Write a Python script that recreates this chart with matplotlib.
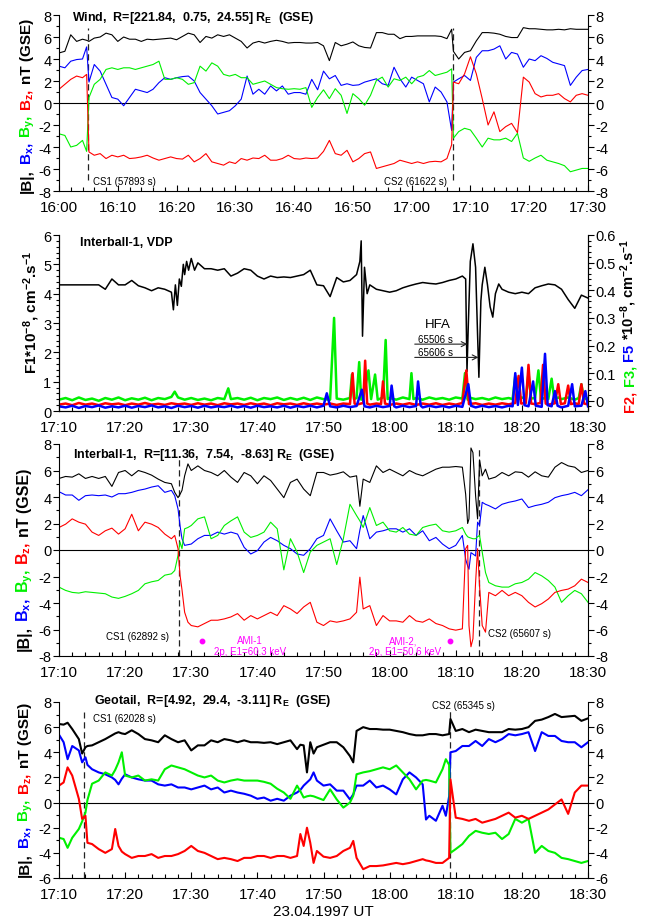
import matplotlib
matplotlib.use("Agg")
import matplotlib.pyplot as plt
from matplotlib.ticker import MultipleLocator, FuncFormatter

plt.rcParams.update({
    "font.family": ["Liberation Sans", "DejaVu Sans"],
    "mathtext.fontset": "custom",
    "mathtext.rm": "Liberation Sans",
    "mathtext.it": "Liberation Sans:italic",
    "mathtext.bf": "Liberation Sans:bold",
    "axes.unicode_minus": False,
})

RED, GREEN, BLUE, BLACK, MAGENTA = "#ff0000", "#00f000", "#0000ff", "#000000", "#ff00ff"

# ---------------- Wind (minutes after 16:00 UT) ----------------
wind_t = [0, 1, 2, 3, 4, 4.7, 5.1,
          6, 7, 8, 9, 10, 11, 12, 13, 14, 15, 16, 17, 18, 19, 20, 21, 22, 23, 24, 25,
          26, 27, 28, 29, 30, 31, 32, 33, 34, 35, 36, 37, 38, 39, 40, 41, 42, 43, 44, 45,
          46, 47, 48, 49, 50, 51, 52, 53, 54, 55, 56, 57, 58, 59, 60, 61, 62, 63, 64, 65, 66,
          66.8, 67.1,
          68, 69, 70, 71, 72, 73, 74, 75, 76, 77, 78, 79, 80, 81, 82, 83, 84, 85, 86, 87, 88, 89, 90]
wind_b = [4.55, 4.7, 6.2, 5.6, 5.8, 5.7, 5.6,
          5.9, 6.0, 6.35, 6.2, 5.6, 6.0, 5.8, 5.8, 5.6, 5.8,
          5.75, 5.8, 5.85, 5.9, 5.75, 6.05, 6.35, 6.2, 5.5, 6.05,
          5.9, 6.2, 6.05, 6.2, 5.9, 5.6, 5.0, 5.45, 5.6, 5.45,
          5.6, 5.7, 5.6, 5.45, 5.5, 5.5, 5.45, 5.45, 5.5, 5.2,
          3.85, 5.5, 5.2, 5.35, 5.55, 5.2, 5.05, 5.0, 6.4, 6.4,
          6.25, 6.25, 5.85, 6.05, 6.05, 6.1, 6.1, 6.1, 6.1, 6.05, 5.85,
          6.7, 4.7,
          4.0, 4.6, 4.75, 5.65, 6.4, 6.4, 6.35, 6.25, 6.05, 5.95,
          5.95, 6.85, 6.75, 6.75, 6.7, 6.65, 6.65, 6.7, 6.65, 6.75, 6.7, 6.7, 6.7]
wind_bx = [3.35, 3.2, 3.8, 3.95, 4.0, 5.1, 1.9,
           3.5, 2.9, 1.7, 0.5, 0.35, -0.25, 0.5, 1.25, 1.1, 0.95,
           1.25, 1.85, 2.3, 2.15, 2.3, 2.4, 2.45, 2.0, 0.95, 0.35,
           -0.25, -1.0, -0.85, -0.7, -0.25, 0.35, 2.45, 0.8, 1.25, 0.8,
           1.55, 1.1, 1.55, 0.8, 0.95, 0.95, 0.8, 2.15, 1.2, 2.9,
           2.2, 2.5, 1.6, 1.75, 1.6, 1.65, 1.9, 2.05, 2.2, 1.75,
           1.6, 3.25, 2.2, 1.45, 2.35, 2.05, 1.75, 0.1, 1.45, 1.0, 0.1,
           -2.5, 1.9,
           2.2, 2.5, 2.05, 4.15, 4.75, 4.75, 4.9, 5.2, 4.0, 4.6,
           4.45, 3.25, 4.0, 3.85, 4.3, 4.05, 3.7, 3.55, 3.4, 1.6, 2.35, 2.95, 3.05]
wind_by = [-2.8, -2.95, -4.0, -3.85, -3.4, -4.4, 0.5,
           1.7, 2.15, 3.05, 3.2, 3.05, 3.2, 3.2, 3.05, 3.2, 3.35,
           3.5, 3.8, 2.15, 2.15, 2.3, 2.15, 1.7, 1.85, 3.35, 2.9,
           3.65, 3.35, 2.6, 2.45, 2.6, 2.3, 2.3, 1.7, 1.85, 2.0,
           1.7, 1.4, 1.3, 1.25, 1.3, 1.25, 1.4, -0.4, 0.5, 1.2,
           0.4, 1.3, 0.7, -0.95, 0.85, 0.4, -0.2, 0.7, 2.05, 2.35,
           1.45, 2.2, 2.05, 2.35, 1.75, 2.35, 2.5, 2.95, 2.5, 2.65, 2.8,
           3.1, -3.2,
           -2.6, -2.3, -2.45, -3.2, -4.0, -3.2, -3.35, -3.35, -3.2, -3.5,
           -2.75, -5.0, -5.3, -5.0, -4.75, -5.2, -5.35, -5.5, -5.7, -6.25, -6.1, -5.95, -5.95]
wind_bz = [1.25, 1.7, 2.15, 2.45, 2.3, 2.6, -4.45,
           -4.75, -4.6, -5.05, -4.75, -4.9, -4.75, -5.05, -5.0, -4.9, -4.75,
           -5.0, -5.2, -5.05, -4.9, -5.05, -5.1, -4.75, -5.35, -5.05, -4.6,
           -5.35, -5.5, -5.65, -5.35, -5.5, -5.05, -5.2, -5.0, -5.05, -4.75,
           -5.2, -5.2, -5.05, -4.75, -5.05, -5.1, -5.0, -5.05, -5.0, -4.4,
           -3.4, -4.6, -4.75, -4.3, -5.35, -5.05, -4.6, -4.45, -5.95, -5.8,
           -5.65, -5.5, -5.2, -5.35, -5.5, -5.35, -5.5, -5.35, -5.3, -5.35, -5.05,
           -3.8, 1.9,
           1.75, 2.65, 4.2, 2.65, 0.4, -2.0, -0.8, -2.6, -2.15, -1.85,
           -2.7, 2.35, 1.9, 0.85, 0.55, 0.7, 0.7, 0.85, 0.4, 0.1, 0.7, 0.85, 0.7]
wind_cs_s = [57893, 61622]

# ---------------- Interball-1 VDP (minutes after 17:10 UT) ----------------
vdp_t1 = [0, 1, 2, 3, 4, 5, 6, 7, 8, 9, 10, 11, 12, 13, 14, 15, 16, 17,
          17.3, 17.6, 17.9, 18.2, 18.5, 18.8, 19, 19.3, 19.6, 20, 20.5,
          21, 22, 23, 24, 25, 26, 27, 28, 29, 30, 31, 32, 33, 34, 35, 36, 37, 38, 39, 40,
          41, 42, 43, 44, 45,
          45.5, 45.7, 45.9, 46.2, 46.6,
          47, 48, 49, 50, 51, 52, 53, 54, 55, 56, 57, 58, 59, 60, 61,
          61.5, 61.7, 61.9, 62.2, 62.6, 63, 63.3, 63.5, 63.8, 64, 64.4, 64.8, 65.2, 65.6, 66, 66.5,
          67, 68, 69, 70, 71, 72, 73, 74, 75, 76, 77, 78, 79, 80]
vdp_f1 = [4.3, 4.3, 4.3, 4.3, 4.3, 4.3, 4.3, 4.15, 4.5, 4.3, 4.3, 4.45, 4.27, 4.2, 4.1, 4.2, 4.15, 4.05,
          3.45, 4.3, 3.6, 4.5, 4.25, 5.0, 4.65, 5.1, 4.8, 5.2, 4.8,
          5.05, 4.85, 4.85, 4.8, 4.85, 4.6, 4.7, 4.85, 4.8, 4.6, 4.5, 4.6, 4.55, 4.57, 4.55, 4.6, 4.65, 4.8, 4.3, 4.27,
          3.9, 4.55, 4.4, 4.45, 4.65,
          5.1, 5.8, 2.55, 4.9, 4.0,
          4.3, 4.15, 4.1, 4.05, 4.1, 4.2, 4.27, 4.33, 4.38, 4.35, 4.33, 4.38, 4.45, 4.5, 4.6,
          4.5, 1.35, 2.95, 5.1, 5.7, 4.9, 2.6, 1.15, 3.75, 4.3, 4.9, 4.3, 3.55, 3.2, 4.0, 4.33,
          4.15, 4.05, 4.0, 4.05, 4.0, 4.2, 4.27, 4.33, 4.3, 4.15, 3.8, 3.5, 3.95, 3.85]

vdp_t3 = [0, 1, 2, 3, 4, 5, 6, 7, 8, 9, 10, 11, 12, 13, 14, 15, 16, 17,
          17.5, 18,
          19, 20, 21, 22, 23, 24, 25,
          25.6,
          26, 27, 28, 29, 30, 31, 32, 33, 34, 35, 36, 37, 38, 39, 40, 41,
          41.6,
          42, 43, 44,
          44.3, 44.6,
          45,
          45.4, 45.7,
          46,
          46.8, 47.2, 47.8, 48.2,
          49,
          49.4, 49.7,
          50, 51, 52, 53,
          53.3, 53.6,
          54, 55, 56, 57, 58, 59, 60, 61,
          61.4, 61.8,
          62, 63, 64, 65, 66, 67, 68,
          68.6, 69, 69.4,
          70, 70.6, 71, 71.4,
          72, 72.5, 72.9,
          73.5, 74, 74.5, 74.9,
          75.5, 76, 77, 78,
          78.6, 79, 79.4, 80]
vdp_f3 = [0.004, 0.010, 0.002, 0.012, 0.003, 0.008, 0.000, 0.010, 0.004, 0.012,
          0.002, 0.009, 0.004, 0.011, 0.002, 0.010, 0.006, 0.014,
          0.033, 0.012,
          0.004, 0.010, 0.003, 0.008, 0.002, 0.010, 0.006,
          0.045,
          0.006, 0.010, 0.004, 0.011, 0.002, 0.010, 0.006, 0.012, 0.003, 0.010, 0.004, 0.011,
          0.003, 0.012, 0.006, 0.004,
          0.30,
          0.008, 0.004, 0.010,
          0.095, 0.006,
          0.010,
          0.14, 0.004,
          0.010,
          0.11, 0.006, 0.095, 0.004,
          0.012,
          0.22, 0.006,
          0.010, 0.004, 0.012, 0.006,
          0.10, 0.006,
          0.010, 0.004, 0.012, 0.006, 0.010, 0.004, 0.012, 0.008,
          0.10, 0.004,
          0.012, 0.006, 0.010, 0.004, 0.012, 0.006, 0.010,
          0.006, 0.09, 0.006,
          0.012, 0.006, 0.10, 0.008,
          0.010, 0.11, 0.006,
          0.010, 0.006, 0.08, 0.006,
          0.012, 0.006, 0.012, 0.004,
          0.010, 0.06, 0.006, 0.010]

vdp_t2 = [0, 1, 2, 3, 4, 5, 6, 7, 8, 9, 10, 11, 12, 13, 14, 15, 16, 17, 18, 19,
          20, 21, 22, 23, 24, 25, 26, 27, 28, 29, 30, 31, 32, 33, 34, 35, 36, 37, 38, 39,
          40, 41, 42, 43, 44,
          44.4, 44.7,
          45, 46,
          46.3, 46.6,
          47, 48,
          48.7, 49.0, 49.3,
          50, 51, 52, 53, 54, 55, 56, 57, 58, 59, 60, 61,
          61.6,
          62, 63, 64, 65, 66, 67, 68, 69,
          69.5, 69.9,
          70.6, 71.0, 71.4,
          72,
          72.8, 73.2, 73.6,
          74, 75,
          75.5, 75.9,
          76.5, 77, 77.4,
          78, 78.6, 79, 79.4, 80]
vdp_f2 = [-0.014, -0.010, -0.016, -0.008, -0.014, -0.010, -0.016, -0.009, -0.013, -0.010,
          -0.016, -0.010, -0.014, -0.008, -0.014, -0.011, -0.015, -0.009, -0.013, -0.010,
          -0.015, -0.009, -0.014, -0.010, -0.016, -0.009, -0.013, -0.010, -0.015, -0.009,
          -0.014, -0.010, -0.016, -0.009, -0.013, -0.010, -0.015, -0.009, -0.014, -0.010,
          -0.014, -0.010, -0.015, -0.010, -0.012,
          0.10, -0.010,
          -0.014, -0.008,
          0.145, -0.010,
          -0.014, -0.010,
          -0.012, 0.07, -0.010,
          -0.015, -0.010, -0.014, -0.009, -0.015, -0.010, -0.014, -0.009, -0.015, -0.010, -0.014, -0.008,
          0.11,
          -0.012, -0.009, -0.015, -0.010, -0.014, -0.009, -0.013, -0.008,
          0.09, -0.010,
          -0.008, 0.13, -0.010,
          -0.012,
          -0.008, 0.13, -0.010,
          -0.014, -0.009,
          0.06, -0.012,
          -0.009, 0.055, -0.012,
          -0.009, -0.012, 0.06, -0.010, -0.013]

vdp_t5 = [0, 1, 2, 3, 4, 5, 6, 7, 8, 9, 10, 11, 12, 13, 14, 15, 16, 17, 18, 19,
          20, 21, 22, 23, 24, 25, 26, 27, 28, 29, 30, 31, 32, 33, 34, 35, 36, 37, 38, 39, 40,
          40.5,
          41, 42, 43, 44, 45,
          45.8, 46.2,
          47, 48, 49, 50,
          50.3, 50.7,
          51, 52, 53, 54,
          54.3, 54.7,
          55, 56, 57, 58, 59, 60, 61,
          61.9, 62.3,
          63, 64, 65, 66, 67, 68,
          68.6, 69, 69.4, 70, 70.4, 71, 71.7, 72.1, 73, 73.5, 73.9, 74.5, 75, 75.4,
          76, 77, 77.6, 78, 79, 79.6, 80]
vdp_f5 = [-0.020, -0.024, -0.018, -0.026, -0.019, -0.023, -0.017, -0.025, -0.020, -0.024,
          -0.018, -0.025, -0.019, -0.023, -0.017, -0.024, -0.020, -0.026, -0.018, -0.023,
          -0.019, -0.025, -0.018, -0.024, -0.020, -0.023, -0.018, -0.024, -0.019, -0.025,
          -0.018, -0.023, -0.020, -0.024, -0.018, -0.025, -0.019, -0.023, -0.018, -0.024,
          -0.018,
          0.027,
          -0.020, -0.024, -0.018, -0.023, -0.019,
          0.04, -0.020,
          -0.024, -0.018, -0.023, -0.019,
          0.055, -0.020,
          -0.024, -0.018, -0.023, -0.019,
          0.07, -0.018,
          -0.024, -0.018, -0.023, -0.019, -0.024, -0.018, -0.022,
          0.06, -0.018,
          -0.024, -0.018, -0.023, -0.019, -0.024, -0.018,
          -0.020, 0.10, -0.015, 0.12, -0.016, -0.020, 0.07, -0.018, -0.022, 0.17, -0.016, -0.020, 0.035, -0.018,
          -0.024, -0.018, 0.06, -0.020, -0.018, 0.035, -0.020]
hfa_s = [65506, 65606]

# ---------------- Interball-1 magnetometer (minutes after 17:10 UT) ----------------
int_t = [0, 1, 2, 3, 4, 5, 6, 7, 8, 9, 10, 11, 12, 13, 14, 15, 16, 17,
         17.5, 18, 18.3, 18.6, 19, 19.5,
         20, 21, 22, 23, 24, 25, 26, 27, 28, 29, 30, 31, 32, 33, 34, 35, 36, 37, 38, 39,
         40, 41, 42, 43, 44, 45,
         45.5,
         46, 47, 48, 49, 50, 51, 52, 53, 54, 55, 56, 57, 58, 59, 60, 61,
         61.5, 61.8, 62, 62.3, 62.6, 63, 63.3, 63.6, 64, 64.5,
         65, 66, 67, 68, 69, 70, 71, 72, 73, 74, 75, 76, 77, 78, 79, 80]
int_b = [5.4, 5.55, 5.5, 5.75, 5.4, 5.55, 5.4, 5.55, 4.8, 5.85, 6.0, 5.6, 6.0, 5.85, 5.65, 5.35, 5.1, 5.0,
         4.35, 3.95, 4.2, 4.5, 5.6, 6.5,
         6.0, 6.35, 6.0, 5.85, 5.6, 6.0, 5.5, 5.1, 5.85, 5.6, 5.0, 5.6, 5.25, 4.6, 3.95, 5.1, 5.35, 4.6, 4.1, 5.85,
         5.85, 5.65, 5.75, 5.9, 5.5, 5.6,
         3.3,
         5.35, 5.1, 6.35, 5.85, 6.1, 5.85, 5.6, 6.0, 5.75, 5.6, 5.85, 6.1, 6.25, 6.25, 6.3, 6.25,
         4.2, 2.0, 2.35, 7.7, 7.35, 4.1, 2.35, 6.8, 5.6, 6.1,
         5.35, 5.5, 5.85, 5.6, 5.9, 5.85, 5.5, 5.9, 5.6, 5.5, 6.25, 6.6, 6.35, 6.25, 5.85, 6.0]
int_bx = [4.4, 4.15, 4.15, 3.75, 4.1, 4.15, 4.1, 4.15, 4.0, 4.25, 4.25, 4.35, 4.5, 4.6, 4.75, 4.85, 4.35, 4.5,
          4.1, 3.1, 1.85, 0.85, 0.35, 0.4,
          0.45, 0.85, 1.1, 1.1, 1.35, 1.2, 1.35, 1.2, 0.2, -0.3, -0.05, 0.6, 0.95, 0.7, 0.35, 0.1, -0.3, -0.4, 0.1, 0.85,
          1.1, 2.35, 1.45, 0.6, 0.7, 0.1,
          1.5,
          2.6, 0.85, 1.35, 1.45, 1.6, 1.6, 1.35, 1.6, 1.1, 1.45, 0.7, 0.95, 0.45, 0.1, 0.35, 1.1,
          -0.7, -1.2, -1.45, -0.2, -0.3, -0.45, 2.1, 1.85, 3.6, 3.45,
          3.35, 3.1, 3.45, 3.6, 3.7, 3.85, 3.2, 3.35, 3.45, 3.6, 3.95, 4.1, 4.2, 4.35, 4.1, 4.55]
int_by = [-2.8, -3.05, -3.2, -3.25, -3.15, -3.2, -3.25, -3.3, -3.55, -3.65, -3.5, -3.3, -3.05, -2.55, -2.4, -2.3, -1.9, -1.8,
          -1.55, -0.4, 0.6, 0.1, 1.6, 1.7,
          1.85, 2.35, 2.5, 0.85, 1.1, 1.85, 2.2, 2.5, 1.35, 0.95, 1.1, 1.35, 2.1, 1.6, -1.5, 0.85, -0.15, -1.7, -0.15, 0.35,
          0.6, 0.85, -1.1, 0.85, 3.45, 2.6,
          2.2,
          1.7, 3.2, 1.85, 2.1, 1.45, 1.35, 1.7, 1.2, 1.1, 1.7, 1.85, 1.95, 1.45, 1.35, 1.45, 1.7,
          1.2, 1.0, 0.95, 0.9, 0.85, 0.85, 1.0, 1.1, -0.15, -1.7,
          -2.45, -2.7, -2.8, -2.8, -2.55, -2.45, -2.2, -1.7, -1.95, -2.3, -2.8, -3.95, -3.45, -3.05, -3.3, -3.95]
int_bz = [1.7, 1.95, 2.35, 2.1, 1.95, 1.35, 1.1, 1.45, 1.65, 1.2, 1.6, 2.7, 1.45, 2.1, 1.95, 1.7, 1.2, 0.85,
          1.1, 0.1, -1.9, -3.0, -4.7, -5.45,
          -5.7, -5.8, -5.55, -5.3, -5.3, -5.2, -5.05, -4.8, -5.3, -4.95, -5.2, -4.95, -4.7, -4.95, -4.2, -4.45, -4.8, -4.3, -3.95, -5.45,
          -5.7, -5.35, -5.45, -5.35, -5.2, -4.7,
          -2.05,
          -4.45, -4.2, -5.7, -4.95, -5.35, -5.35, -5.45, -4.95, -5.35, -5.45, -5.2, -5.55, -5.7, -5.95, -6.05, -5.95,
          0.1, 0.35, -5.7, -7.3, -6.7, -2.45, 0.1, -2.7, -5.7, -6.2,
          -3.2, -3.45, -3.05, -3.45, -3.2, -3.45, -3.95, -4.3, -4.05, -3.7, -3.2, -3.05, -2.95, -2.7, -2.2, -2.45]
int_cs_s = [62892, 65607]
ami_t = [21.7, 59.1]
ami_v = [-6.9, -6.9]

# ---------------- Geotail (minutes after 17:10 UT) ----------------
geo_t = [0, 0.7, 1.3, 2, 3, 3.5, 4, 4.3, 5, 6, 7, 8, 8.5, 9, 9.5,
         10, 11, 12, 13, 14, 15, 16, 17, 18, 19, 20, 21, 22, 23, 24, 25, 26, 27, 28, 29, 30,
         31, 32, 33, 34, 35, 36,
         36.5, 37, 37.5, 38, 38.5,
         39, 40, 41, 42, 43, 44,
         44.5,
         45, 46, 47, 48, 49, 50, 51, 52, 53, 54, 55,
         55.5, 56, 57, 58, 58.5, 59, 59.2,
         60, 61, 62, 63, 64, 65, 66, 67, 68, 69, 70, 71, 72, 73, 74, 75, 76, 77, 78, 79, 80]
geo_b = [6.25, 6.2, 6.35, 5.85, 5.05, 3.9, 4.4, 4.5, 4.55, 4.8, 5.05, 5.35, 5.5, 5.6, 5.5,
         5.45, 5.75, 5.45, 5.05, 4.95, 4.8, 5.35, 5.05, 4.8, 4.95, 4.15, 4.55, 4.55, 4.95, 4.8, 5.05,
         4.95, 4.8, 4.95, 4.8, 4.8, 4.75, 4.8, 4.65, 4.8, 4.95, 4.25,
         4.6, 4.55, 2.4, 4.8, 3.9,
         4.4, 4.6, 4.8, 4.8, 4.4, 3.7,
         3.2,
         5.7, 6.0, 5.85, 5.85, 5.8, 5.8, 5.7, 5.6, 5.45, 5.35, 5.35,
         5.4, 5.45, 5.45, 5.35, 5.4, 5.45, 6.65,
         5.7, 5.85, 5.6, 5.8, 5.7, 5.6, 5.6, 5.6, 5.85, 5.8, 5.85, 6.0, 6.5, 6.6, 6.8, 7.05, 6.8, 6.85, 6.9, 6.5, 6.7]
geo_bx = [5.4, 4.8, 3.45, 4.5, 4.15, 3.2, 3.6, 3.0, 2.65, 2.4, 2.25, 2.0, 1.8, 1.45, 1.9,
          2.25, 2.0, 1.85, 1.75, 1.75, 1.45, 1.35, 1.45, 1.2, 1.2, 1.05, 1.2, 1.35, 1.05, 1.2, 0.8,
          0.95, 0.8, 0.7, 0.55, 0.3, 0.4, 0.15, 0.3, 0.15, 0.55, 0.8,
          1.0, 1.35, 1.6, 1.85, 2.4,
          1.75, 1.35, 1.45, 0.95, 0.95, 0.25,
          0.65,
          1.35, 1.35, 1.75, 1.2, 1.35, 1.05, 0.65, 1.85, 2.4, 2.0, 1.45,
          -1.35, -1.05, -1.45, -0.25, -1.05, 0.5, 4.0,
          4.1, 4.5, 4.5, 4.9, 4.5, 5.05, 4.8, 5.05, 5.45, 5.35, 5.45, 5.6, 4.1, 5.6, 5.3, 5.3, 4.9, 4.8, 4.8, 4.4, 4.8]
geo_by = [-2.8, -2.9, -3.6, -2.8, -2.1, -1.5, -0.8, 0.2, 1.5, 1.75, 2.4, 2.15, 2.6, 3.2, 4.0,
          2.15, 2.0, 2.15, 1.75, 1.85, 1.75, 2.65, 2.95, 2.8, 2.65, 2.4, 2.15, 2.0, 2.15, 1.75, 1.6,
          1.75, 1.85, 1.75, 1.75, 1.75, 1.65, 1.5, 1.1, 0.8, 0.3, 1.35,
          0.9, 0.4, 0.5, 0.55, 0.5,
          0.4, 0.2, 1.05, 0.25, -0.4, 0.0,
          0.55,
          2.25, 2.4, 2.5, 2.65, 2.8, 2.65, 2.95, 2.4, 1.85, 1.05, 1.75,
          1.8, 1.75, 1.6, 2.65, 3.45, 3.0, -4.0,
          -3.7, -3.3, -2.65, -2.25, -2.4, -2.5, -2.4, -2.9, -2.5, -1.3, -1.6, -1.3, -4.0, -3.45, -3.85, -4.0, -4.4, -4.5, -4.65, -4.8, -4.65]
geo_bz = [1.35, 1.6, 2.8, 2.15, 0.3, -1.3, -1.05, -3.2, -3.3, -3.7, -4.0, -3.7, -2.1, -3.45, -3.9,
          -4.1, -4.4, -4.25, -4.25, -4.1, -4.4, -4.25, -4.25, -4.1, -3.85, -3.45, -3.85, -4.0, -4.25, -4.5, -4.4,
          -4.5, -4.65, -4.4, -4.4, -4.25, -4.25, -4.4, -4.25, -4.25, -4.4, -4.25,
          -2.5, -3.45, -2.0, -3.2, -4.8,
          -3.85, -4.3, -4.4, -4.25, -3.85, -3.6,
          -3.05,
          -4.4, -5.3, -5.05, -5.05, -5.0, -4.9, -4.8, -4.9, -4.8, -4.65, -4.5,
          -4.6, -4.65, -4.8, -4.8, -4.6, -4.4, 1.85,
          -1.2, -1.3, -1.45, -1.3, -1.6, -1.45, -1.3, -1.05, -0.8, -1.2, -1.05, -1.3, -1.05, -0.8, -0.55, -0.15, 0.25, -0.9, 0.8, 1.35, 1.35]
geo_cs_s = [62028, 65345]

# ---------------- figure ----------------
W, H = 645, 920
fig = plt.figure(figsize=(W / 100, H / 100), dpi=100)
AX_L, AX_R = 59, 588


def panel(top, bottom):
    return fig.add_axes([AX_L / W, 1 - bottom / H, (AX_R - AX_L) / W, (bottom - top) / H])


def hhmm(start_min):
    def f(v, pos):
        m = int(round(start_min + v))
        return f"{m // 60}:{m % 60:02d}"
    return FuncFormatter(f)


def style(ax, start_min, span, ylo, yhi, ymaj, ymin, right=True):
    ax.set_xlim(0, span)
    ax.set_ylim(ylo, yhi)
    ax.spines["top"].set_visible(False)
    for s in ("left", "right", "bottom"):
        ax.spines[s].set_linewidth(0.8)
    ax.xaxis.set_major_locator(MultipleLocator(10))
    ax.xaxis.set_minor_locator(MultipleLocator(2))
    ax.xaxis.set_major_formatter(hhmm(start_min))
    ax.tick_params(axis="x", which="both", direction="in", top=False, labelsize=11, pad=6.5, width=0.8)
    ax.tick_params(axis="x", which="major", length=4.5)
    ax.tick_params(axis="x", which="minor", length=3)
    ax.yaxis.set_major_locator(MultipleLocator(ymaj))
    ax.yaxis.set_minor_locator(MultipleLocator(ymin))
    ax.tick_params(axis="y", which="both", direction="out", left=True, right=right,
                   labelleft=True, labelright=right, labelsize=10.5, pad=1.5, width=0.8)
    ax.tick_params(axis="y", which="major", length=4)
    ax.tick_params(axis="y", which="minor", length=2.5)


def stacked_label(pieces, xc, yc, size):
    """Rotated label built from coloured pieces, read bottom to top (pixel coords from top-left)."""
    r = fig.canvas.get_renderer()
    lens = []
    for s, c in pieces:
        t = fig.text(0, 0, s, fontsize=size, fontweight="bold")
        lens.append(t.get_window_extent(r).width)
        t.remove()
    gap = 0.28 * size * fig.dpi / 72
    total = sum(lens) + gap * (len(pieces) - 1)
    y = (H - yc) - total / 2
    xb = xc + 0.36 * size * fig.dpi / 72
    for (s, c), L in zip(pieces, lens):
        fig.text(xb / W, y / H, s, fontsize=size, fontweight="bold", color=c,
                 rotation=90, rotation_mode="anchor", ha="left", va="baseline")
        y += L + gap


def draw_b(ax, t, b, bx, by, bz, lw):
    ax.axhline(0, color=BLACK, lw=0.8, zorder=1)
    ax.plot(t, b, color=BLACK, lw=lw, zorder=2)
    ax.plot(t, bx, color=BLUE, lw=lw, zorder=2.1)
    ax.plot(t, by, color=GREEN, lw=lw, zorder=2.2)
    ax.plot(t, bz, color=RED, lw=lw, zorder=2.3)


def cs_line(ax, x, y0, y1):
    ax.vlines(x, y0, y1, colors="#222222", linewidth=0.9, linestyles=(0, (5, 3)), zorder=1.5)


B_LABEL = [("|B|,", BLACK), (r"B$_\mathbf{x}$,", BLUE), (r"B$_\mathbf{y}$,", GREEN),
           (r"B$_\mathbf{z}$,", RED), ("nT (GSE)", BLACK)]

# --- Wind panel ---
ax1 = panel(16, 192)
t0 = 16 * 60
draw_b(ax1, wind_t, wind_b, wind_bx, wind_by, wind_bz, 0.8)
style(ax1, t0, 90, -8, 8, 2, 1)
cs1, cs2 = [(s - t0 * 60) / 60 for s in wind_cs_s]
cs_line(ax1, cs1, -7.0, 6.8)
cs_line(ax1, cs2, -7.0, 6.8)
ax1.text(cs1 + 0.85, -7.1, f"CS1 ({wind_cs_s[0]} s)", fontsize=7, ha="left", va="center")
ax1.text(cs2 - 1.05, -7.1, f"CS2 ({wind_cs_s[1]} s)", fontsize=7, ha="right", va="center")
ax1.text(0.025, 0.973, r"Wind,  R=[221.84,  0.75,  24.55] R$_\mathbf{E}$  (GSE)",
         transform=ax1.transAxes, fontsize=9, fontweight="bold", ha="left", va="baseline")

# --- VDP panel ---
ax2 = panel(236, 412)
t1 = 17 * 60 + 10
ax2.plot(vdp_t1, vdp_f1, color=BLACK, lw=1.1, zorder=2)
style(ax2, t1, 80, 0, 6, 1, 0.2, right=False)
ax2r = ax2.twinx()
ax2r.plot(vdp_t3, vdp_f3, color=GREEN, lw=1.8, zorder=2)
ax2r.plot(vdp_t2, vdp_f2, color=RED, lw=1.8, zorder=2.1)
ax2r.plot(vdp_t5, vdp_f5, color=BLUE, lw=1.8, zorder=2.2)
ax2r.set_xlim(0, 80)
ax2r.set_ylim(-0.037, 0.6)
ax2r.spines["top"].set_visible(False)
for s in ("left", "right", "bottom"):
    ax2r.spines[s].set_linewidth(0.8)
ax2r.yaxis.set_major_locator(MultipleLocator(0.1))
ax2r.yaxis.set_minor_locator(MultipleLocator(0.02))
ax2r.yaxis.set_major_formatter(FuncFormatter(lambda v, p: "0" if abs(v) < 1e-9 else f"{v:.1f}"))
ax2r.tick_params(axis="y", which="both", direction="out", labelsize=10.5, pad=1.5, width=0.8)
ax2r.tick_params(axis="y", which="major", length=4)
ax2r.tick_params(axis="y", which="minor", length=2.5)
ax2.text(0.04, 0.945, "Interball-1, VDP", transform=ax2.transAxes, fontsize=9,
         fontweight="bold", ha="left", va="baseline")
h1, h2 = [(s - t1 * 60) / 60 for s in hfa_s]
ax2r.text(57.3, 0.278, "HFA", fontsize=9.5, ha="center", va="center")
ax2r.text(56.9, 0.224, f"{hfa_s[0]} s", fontsize=7, ha="center", va="center")
ax2r.text(56.9, 0.178, f"{hfa_s[1]} s", fontsize=7, ha="center", va="center")
for yy, tip in ((0.205, h1), (0.157, h2)):
    ax2r.annotate("", xy=(tip, yy), xytext=(53.8, yy),
                  arrowprops=dict(arrowstyle="->", lw=0.8, color="#222222",
                                  shrinkA=0, shrinkB=0, mutation_scale=9))

# --- Interball-1 magnetometer panel ---
ax3 = panel(445, 657)
draw_b(ax3, int_t, int_b, int_bx, int_by, int_bz, 0.8)
style(ax3, t1, 80, -8, 8, 2, 1)
c1, c2 = [(s - t1 * 60) / 60 for s in int_cs_s]
cs_line(ax3, c1, -8, 7.1)
cs_line(ax3, c2, -8, 7.6)
ax3.text(c1 - 1.6, -6.47, f"CS1 ({int_cs_s[0]} s)", fontsize=7, ha="right", va="center")
ax3.text(c2 + 1.4, -6.3, f"CS2 ({int_cs_s[1]} s)", fontsize=7, ha="left", va="center")
ax3.plot(ami_t, ami_v, "o", color=MAGENTA, ms=3.2, zorder=3)
ax3.text(28.8, -6.82, "AMI-1", color=MAGENTA, fontsize=7, ha="center", va="center")
ax3.text(28.9, -7.62, "2p, E1=60.3 keV", color=MAGENTA, fontsize=7, ha="center", va="center")
ax3.text(52.1, -6.82, "AMI-2,", color=MAGENTA, fontsize=7, ha="center", va="center")
ax3.text(52.4, -7.62, "2p, E1=50.6 keV", color=MAGENTA, fontsize=7, ha="center", va="center")
ax3.text(0.026, 0.937, r"Interball-1,  R=[11.36,  7.54,  -8.63] R$_\mathbf{E}$  (GSE)",
         transform=ax3.transAxes, fontsize=9, fontweight="bold", ha="left", va="baseline")

# --- Geotail panel ---
ax4 = panel(703, 879)
draw_b(ax4, geo_t, geo_b, geo_bx, geo_by, geo_bz, 1.5)
style(ax4, t1, 80, -6, 8, 2, 1)
g1, g2 = [(s - t1 * 60) / 60 for s in geo_cs_s]
cs_line(ax4, g1, -6, 7.2)
cs_line(ax4, g2, -6, 7.45)
ax4.text(g1 + 1.4, 6.75, f"CS1 ({geo_cs_s[0]} s)", fontsize=7, ha="left", va="center")
ax4.text(g2 - 2.6, 7.8, f"CS2 ({geo_cs_s[1]} s)", fontsize=7, ha="left", va="center")
ax4.text(0.066, 0.994, r"Geotail,  R=[4.92,  29.4,  -3.11] R$_\mathbf{E}$  (GSE)",
         transform=ax4.transAxes, fontsize=9, fontweight="bold", ha="left", va="baseline")
fig.text(323 / W, 1 - 912 / H, "23.04.1997 UT", fontsize=11, ha="center", va="center")

# --- axis titles ---
stacked_label(B_LABEL, 25, 106, 11)
stacked_label([(r"F1*10$^\mathbf{-8}$, cm$^\mathbf{-2}$.s$^\mathbf{-1}$", BLACK)], 31, 312, 11)
stacked_label([("F2,", RED), ("F3,", GREEN), ("F5", BLUE),
               (r"*10$^\mathbf{-8}$, cm$^\mathbf{-2}$.s$^\mathbf{-1}$", BLACK)], 628, 325, 10.5)
stacked_label(B_LABEL, 23, 560, 11.5)
stacked_label(B_LABEL, 23, 790, 11)

fig.savefig("out.png", dpi=100)
